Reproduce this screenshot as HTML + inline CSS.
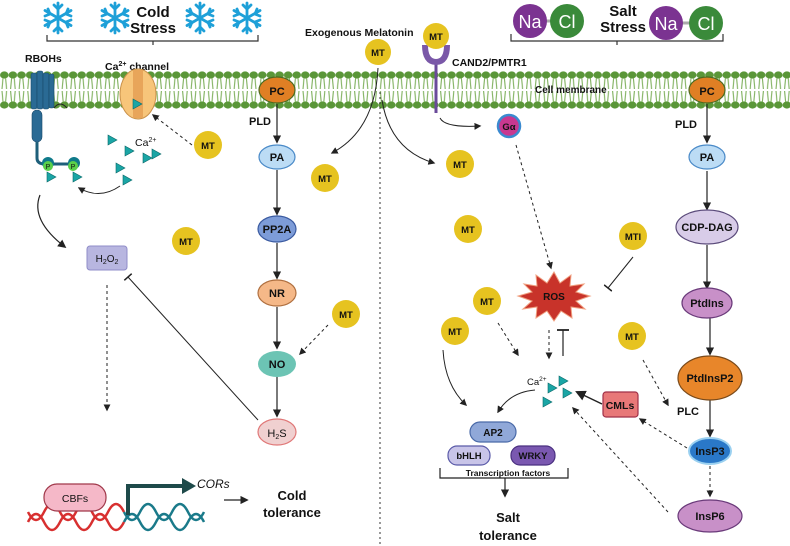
<!DOCTYPE html>
<html><head><style>
body{margin:0;background:#fff}
svg{display:block;font-family:"Liberation Sans",sans-serif}
text{font-weight:bold;fill:#111}
</style></head><body>
<svg width="790" height="546" viewBox="0 0 790 546" xmlns="http://www.w3.org/2000/svg">
<defs>
<pattern id="mem" x="0" y="70" width="8.6" height="40" patternUnits="userSpaceOnUse">
<ellipse cx="4.3" cy="5" rx="4.3" ry="3.6" fill="#5a9638"/>
<ellipse cx="4.3" cy="35" rx="4.3" ry="3.6" fill="#5a9638"/>
<path d="M3 8 L2 19 M5.6 8 L6.6 19 M3 32 L2 21 M5.6 32 L6.6 21" stroke="#7eb05c" stroke-width="1.1" fill="none"/>
</pattern>
<marker id="a" viewBox="0 0 10 10" refX="8" refY="5" markerWidth="7" markerHeight="7" orient="auto"><path d="M0 0L10 5L0 10z" fill="#222"/></marker>
<marker id="t" viewBox="0 0 10 10" refX="5" refY="5" markerWidth="10" markerHeight="10" orient="auto"><path d="M5 0V10" stroke="#222" stroke-width="1.5"/></marker>
<g id="sf" stroke="#1ea0d8" stroke-width="2.8" fill="none" stroke-linecap="round">
<path d="M0 -15V15M-13 -7.5L13 7.5M-13 7.5L13 -7.5"/>
<path d="M-4 -13L0 -9L4 -13M-4 13L0 9L4 13M-13 -2L-8 -4L-10 -9M13 2L8 4L10 9M-13 2L-8 4L-10 9M13 -2L8 -4L10 -9"/>
</g>
<g id="tri"><path d="M-4 -5L5 0L-4 5z" fill="#1aa5a5" stroke="#0b6a6a" stroke-width="0.6"/></g>
</defs>
<rect width="790" height="546" fill="#fff"/>
<rect x="0" y="70" width="790" height="40" fill="url(#mem)"/>

<!-- Cold stress -->
<use href="#sf" x="58" y="18"/><use href="#sf" x="115" y="18"/><use href="#sf" x="200" y="18"/><use href="#sf" x="247" y="18"/>
<text x="153" y="17" font-size="15" text-anchor="middle">Cold</text>
<text x="153" y="33" font-size="15" text-anchor="middle">Stress</text>
<path d="M47 35V41H258V35M153 41V45" stroke="#333" fill="none" stroke-width="1.2"/>

<!-- Salt stress -->
<line x1="530" y1="21" x2="566" y2="21" stroke="#aaa" stroke-width="3"/>
<line x1="668" y1="23" x2="706" y2="23" stroke="#aaa" stroke-width="3"/>
<circle cx="530" cy="21" r="17" fill="#7b3391"/><text x="530" y="28" font-size="18" text-anchor="middle" style="fill:#fff;font-weight:normal">Na</text>
<circle cx="567" cy="21" r="17" fill="#3a8a3a"/><text x="567" y="28" font-size="18" text-anchor="middle" style="fill:#fff;font-weight:normal">Cl</text>
<circle cx="666" cy="23" r="17" fill="#7b3391"/><text x="666" y="30" font-size="18" text-anchor="middle" style="fill:#fff;font-weight:normal">Na</text>
<circle cx="706" cy="23" r="17" fill="#3a8a3a"/><text x="706" y="30" font-size="18" text-anchor="middle" style="fill:#fff;font-weight:normal">Cl</text>
<text x="623" y="16" font-size="15" text-anchor="middle">Salt</text>
<text x="623" y="32" font-size="15" text-anchor="middle">Stress</text>
<path d="M511 34V41H723V34M617 41V45" stroke="#333" fill="none" stroke-width="1.2"/>

<text x="305" y="36" font-size="10.5">Exogenous Melatonin</text>
<text x="25" y="62" font-size="10.5">RBOHs</text>
<text x="105" y="70" font-size="10.5">Ca<tspan font-size="7" dy="-4">2+</tspan><tspan dy="4"> channel</tspan></text>
<text x="452" y="66" font-size="10.5">CAND2/PMTR1</text>
<text x="535" y="93" font-size="10">Cell membrane</text>

<!-- RBOH -->
<g fill="#2a6a94" stroke="#1a4a6a" stroke-width="0.6">
<rect x="31" y="73" width="6" height="36" rx="2"/><rect x="37" y="71" width="6" height="38" rx="2"/><rect x="43" y="73" width="6" height="36" rx="2"/><rect x="49" y="74" width="5" height="34" rx="2"/>
<rect x="32" y="110" width="10" height="32" rx="5"/>
</g>
<path d="M37 142V158Q37 164 45 164H75" stroke="#1e5f7a" stroke-width="3" fill="none"/>
<path d="M54 108Q60 100 67 108" stroke="#222" fill="none"/>
<circle cx="48" cy="163" r="6" fill="#0f7a8a"/><circle cx="74" cy="163" r="6" fill="#0f7a8a"/>
<circle cx="48" cy="166" r="5" fill="#5bd04a"/><text x="48" y="169" font-size="7" text-anchor="middle" style="font-weight:normal">P</text>
<circle cx="73" cy="166" r="5" fill="#5bd04a"/><text x="73" y="169" font-size="7" text-anchor="middle" style="font-weight:normal">P</text>
<use href="#tri" x="51" y="177"/><use href="#tri" x="77" y="177"/>
<!-- Ca channel -->
<ellipse cx="138" cy="94" rx="18" ry="25" fill="#f7c57a" stroke="#c9914a"/>
<rect x="133" y="70" width="10" height="48" fill="#e8a55a"/>
<use href="#tri" x="137" y="104"/>
<use href="#tri" x="112" y="140"/><use href="#tri" x="129" y="151"/><use href="#tri" x="147" y="158"/><use href="#tri" x="156" y="154"/><use href="#tri" x="120" y="168"/><use href="#tri" x="127" y="180"/>
<text x="135" y="146" font-size="10.5" style="font-weight:normal">Ca<tspan font-size="7" dy="-4">2+</tspan></text>
<path d="M192 145L153 115" stroke="#222" stroke-dasharray="3,3" marker-end="url(#a)" fill="none"/>
<path d="M120 186Q100 200 79 188" stroke="#222" fill="none" marker-end="url(#a)"/>
<path d="M40 195Q30 220 65 247" stroke="#222" fill="none" marker-end="url(#a)" stroke-width="1.2"/>

<!-- H2O2 -->
<rect x="87" y="246" width="40" height="24" rx="3" fill="#b8b6e0" stroke="#8f8cc8"/>
<text x="107" y="262" font-size="10" text-anchor="middle" style="font-weight:normal">H<tspan font-size="7" dy="2">2</tspan><tspan dy="-2">O</tspan><tspan font-size="7" dy="2">2</tspan></text>
<path d="M107 285V410" stroke="#222" stroke-dasharray="3,3" marker-end="url(#a)"/>
<path d="M258 420L128 277" stroke="#222" marker-end="url(#t)"/>

<!-- left chain -->
<g stroke="#222" stroke-width="1.2" marker-end="url(#a)">
<line x1="277" y1="104" x2="277" y2="142"/><line x1="277" y1="170" x2="277" y2="214"/><line x1="277" y1="243" x2="277" y2="278"/><line x1="277" y1="307" x2="277" y2="348"/><line x1="277" y1="377" x2="277" y2="416"/>
</g>
<path d="M328 325L300 354" stroke="#222" stroke-dasharray="3,3" marker-end="url(#a)"/>
<ellipse cx="277" cy="90" rx="18" ry="13" fill="#e07f24" stroke="#4a6a20" stroke-width="1.2"/><text x="277" y="95" font-size="11" text-anchor="middle">PC</text>
<text x="260" y="125" font-size="11" text-anchor="middle">PLD</text>
<ellipse cx="277" cy="157" rx="18" ry="12" fill="#bcdcf5" stroke="#4a8ac8" stroke-width="1.2"/><text x="277" y="161" font-size="11" text-anchor="middle">PA</text>
<ellipse cx="277" cy="229" rx="19" ry="13" fill="#7d9cd8" stroke="#3a5aa0" stroke-width="1.2"/><text x="277" y="233" font-size="11" text-anchor="middle">PP2A</text>
<ellipse cx="277" cy="293" rx="19" ry="13" fill="#f5b888" stroke="#b07040" stroke-width="1.2"/><text x="277" y="297" font-size="11" text-anchor="middle">NR</text>
<ellipse cx="277" cy="364" rx="19" ry="13" fill="#6cc4b4"/><text x="277" y="368" font-size="11" text-anchor="middle">NO</text>
<ellipse cx="277" cy="432" rx="19" ry="13" fill="#f0d0d0" stroke="#e07878" stroke-width="1.2"/><text x="277" y="437" font-size="11" text-anchor="middle" style="font-weight:normal">H<tspan font-size="7" dy="2">2</tspan><tspan dy="-2">S</tspan></text>

<!-- DNA -->
<path d="M28 522 Q36 506 44 522 T60 522 T76 522 T92 522 T108 522 T124 522" stroke="#d83030" stroke-width="2.5" fill="none"/>
<path d="M28 512 Q36 528 44 512 T60 512 T76 512 T92 512 T108 512 T124 512" stroke="#d83030" stroke-width="2.5" fill="none"/>
<path d="M124 522 Q132 506 140 522 T156 522 T172 522 T188 522 T204 522" stroke="#1a7a8a" stroke-width="2.5" fill="none"/>
<path d="M124 512 Q132 528 140 512 T156 512 T172 512 T188 512 T204 512" stroke="#1a7a8a" stroke-width="2.5" fill="none"/>
<rect x="44" y="484" width="62" height="27" rx="13" fill="#f5b8c8" stroke="#a0384a" stroke-width="1.2"/>
<text x="75" y="502" font-size="10.5" text-anchor="middle" style="font-weight:normal">CBFs</text>
<path d="M128 515V486H183" stroke="#1e4a4a" stroke-width="4" fill="none"/>
<path d="M182 478L196 486L182 494z" fill="#1e4a4a"/>
<text x="197" y="488" font-size="12" font-style="italic" style="font-weight:normal">CORs</text>
<line x1="224" y1="500" x2="247" y2="500" stroke="#222" stroke-width="1.2" marker-end="url(#a)"/>
<text x="292" y="500" font-size="13" text-anchor="middle">Cold</text>
<text x="292" y="517" font-size="13" text-anchor="middle">tolerance</text>

<!-- divider -->
<line x1="380" y1="92" x2="380" y2="546" stroke="#333" stroke-dasharray="2,3"/>
<path d="M378 68Q375 130 332 153" stroke="#222" fill="none" marker-end="url(#a)"/>
<path d="M382 100Q390 150 434 163" stroke="#222" fill="none" marker-end="url(#a)"/>

<!-- receptor -->
<line x1="436" y1="60" x2="436" y2="113" stroke="#6a4a9a" stroke-width="3"/>
<path d="M425 45Q425 62 436 62Q447 62 447 45" stroke="#7a58a8" stroke-width="6" fill="none"/>
<path d="M440 118Q445 128 480 126" stroke="#222" fill="none" marker-end="url(#a)"/>
<circle cx="509" cy="126" r="11" fill="#c83890" stroke="#3a8ad0" stroke-width="2.5"/><text x="509" y="130" font-size="9.5" text-anchor="middle">Gα</text>
<path d="M516 145L551 268" stroke="#222" stroke-dasharray="3,3" marker-end="url(#a)"/>

<!-- ROS -->
<polygon points="554,272 560,283 571,275 570,286 584,284 576,292 590,296 576,301 585,309 571,307 572,318 561,311 554,321 547,311 536,318 537,307 523,309 532,301 518,296 532,292 524,284 537,286 536,275 547,283" fill="#c8332a" stroke="#f0a080"/>
<text x="554" y="300" font-size="10" text-anchor="middle">ROS</text>
<path d="M633 257L608 288" stroke="#222" marker-end="url(#t)"/>
<path d="M549 330V358" stroke="#222" stroke-dasharray="3,3" marker-end="url(#a)"/>
<path d="M563 356V330" stroke="#222" stroke-width="1.2" marker-end="url(#t)"/>
<path d="M498 323L518 355" stroke="#222" stroke-dasharray="3,3" marker-end="url(#a)"/>
<path d="M443 350Q445 385 466 405" stroke="#222" fill="none" marker-end="url(#a)"/>
<path d="M643 360L668 405" stroke="#222" stroke-dasharray="3,3" marker-end="url(#a)"/>

<!-- Ca right -->
<text x="527" y="385" font-size="9.5" style="font-weight:normal">Ca<tspan font-size="6.5" dy="-4">2+</tspan></text>
<use href="#tri" x="563" y="381"/><use href="#tri" x="552" y="388"/><use href="#tri" x="567" y="393"/><use href="#tri" x="547" y="402"/>
<path d="M535 390Q510 392 498 412" stroke="#222" fill="none" marker-end="url(#a)"/>
<path d="M602 404L577 392" stroke="#222" stroke-width="1.5" marker-end="url(#a)"/>
<rect x="603" y="392" width="35" height="25" rx="3" fill="#e87878" stroke="#a03048" stroke-width="1.2"/>
<text x="620" y="409" font-size="10.5" text-anchor="middle">CMLs</text>
<path d="M687 448L640 419" stroke="#222" stroke-dasharray="3,3" marker-end="url(#a)"/>
<path d="M668 512L573 408" stroke="#222" stroke-dasharray="3,3" marker-end="url(#a)"/>

<rect x="470" y="422" width="46" height="20" rx="10" fill="#90a8d8" stroke="#4a6aa8" stroke-width="1.2"/><text x="493" y="436" font-size="10" text-anchor="middle">AP2</text>
<rect x="448" y="446" width="42" height="19" rx="9" fill="#c8c4e8" stroke="#5a5aa8" stroke-width="1.2"/><text x="469" y="459" font-size="9.5" text-anchor="middle">bHLH</text>
<rect x="511" y="446" width="44" height="19" rx="9" fill="#7a58b0" stroke="#4a3080" stroke-width="1.2"/><text x="533" y="459" font-size="9.5" text-anchor="middle">WRKY</text>
<path d="M440 468V478H568V468" stroke="#222" fill="none" stroke-width="1.2"/>
<path d="M505 478V496" stroke="#222" stroke-width="1.2" marker-end="url(#a)"/>
<text x="508" y="476" font-size="8.5" text-anchor="middle">Transcription factors</text>
<text x="508" y="522" font-size="13" text-anchor="middle">Salt</text>
<text x="508" y="540" font-size="13" text-anchor="middle">tolerance</text>

<!-- right chain -->
<g stroke="#222" stroke-width="1.2" marker-end="url(#a)">
<line x1="707" y1="104" x2="707" y2="142"/><line x1="707" y1="171" x2="707" y2="209"/><line x1="707" y1="245" x2="707" y2="288"/><line x1="710" y1="318" x2="710" y2="354"/><line x1="710" y1="400" x2="710" y2="436"/>
</g>
<path d="M710 466V496" stroke="#222" stroke-dasharray="3,3" marker-end="url(#a)"/>
<ellipse cx="707" cy="90" rx="18" ry="13" fill="#e07f24" stroke="#4a6a20" stroke-width="1.2"/><text x="707" y="95" font-size="11" text-anchor="middle">PC</text>
<text x="686" y="128" font-size="11" text-anchor="middle">PLD</text>
<ellipse cx="707" cy="157" rx="18" ry="12" fill="#bcdcf5" stroke="#4a8ac8" stroke-width="1.2"/><text x="707" y="161" font-size="11" text-anchor="middle">PA</text>
<ellipse cx="707" cy="227" rx="31" ry="17" fill="#d8cce8" stroke="#5a4a7a" stroke-width="1.2"/><text x="707" y="231" font-size="11" text-anchor="middle">CDP-DAG</text>
<ellipse cx="707" cy="303" rx="25" ry="15" fill="#c890c8" stroke="#6a3a7a" stroke-width="1.2"/><text x="707" y="307" font-size="11" text-anchor="middle">PtdIns</text>
<ellipse cx="710" cy="378" rx="32" ry="22" fill="#e8862a" stroke="#7a4a1a" stroke-width="1.2"/><text x="710" y="382" font-size="11" text-anchor="middle">PtdInsP2</text>
<text x="688" y="415" font-size="11" text-anchor="middle">PLC</text>
<ellipse cx="710" cy="451" rx="21" ry="13" fill="#2a78c8" stroke="#9ad0f0" stroke-width="2"/><text x="710" y="455" font-size="11" text-anchor="middle">InsP3</text>
<ellipse cx="710" cy="516" rx="32" ry="16" fill="#c890c8" stroke="#6a3a7a" stroke-width="1.2"/><text x="710" y="520" font-size="11" text-anchor="middle">InsP6</text>

<!-- MT circles -->
<g fill="#e6c320">
<circle cx="378" cy="52" r="13"/><circle cx="436" cy="36" r="13"/><circle cx="208" cy="145" r="14"/><circle cx="325" cy="178" r="14"/><circle cx="186" cy="241" r="14"/><circle cx="346" cy="314" r="14"/><circle cx="460" cy="164" r="14"/><circle cx="468" cy="229" r="14"/><circle cx="487" cy="301" r="14"/><circle cx="455" cy="331" r="14"/><circle cx="633" cy="236" r="14"/><circle cx="632" cy="336" r="14"/>
</g>
<g font-size="9.5" text-anchor="middle">
<text x="378" y="56">MT</text><text x="436" y="40">MT</text><text x="208" y="149">MT</text><text x="325" y="182">MT</text><text x="186" y="245">MT</text><text x="346" y="318">MT</text><text x="460" y="168">MT</text><text x="468" y="233">MT</text><text x="487" y="305">MT</text><text x="455" y="335">MT</text><text x="633" y="240">MTl</text><text x="632" y="340">MT</text>
</g>
</svg>
</body></html>
